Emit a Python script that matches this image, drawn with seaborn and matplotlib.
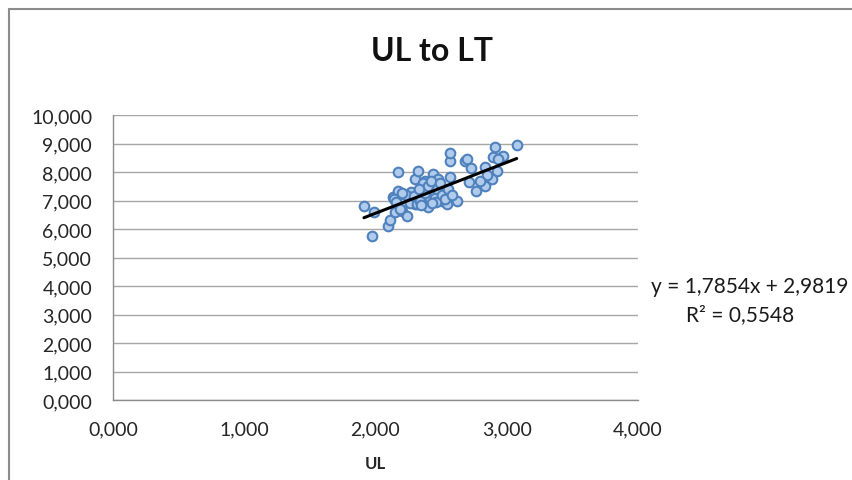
import numpy as np
import pandas as pd
import matplotlib
matplotlib.use("Agg")
import matplotlib.pyplot as plt
import seaborn as sns
from matplotlib.ticker import FuncFormatter, MultipleLocator

# UL values (thousands)
ul = [1.912, 1.989, 1.976, 2.174, 2.098, 2.110, 2.131, 2.174, 2.149, 2.200,
      2.238, 2.212, 2.270, 2.301, 2.321, 2.301, 2.352, 2.377, 2.402, 2.440,
      2.478, 2.440, 2.415, 2.486, 2.504, 2.542, 2.568, 2.568, 2.568, 2.619,
      2.547, 2.682, 2.695, 2.725, 2.715, 2.766, 2.834, 2.834, 2.867, 2.910,
      2.898, 2.923, 2.885, 2.961, 3.076, 2.974, 2.140, 2.160, 2.190, 2.230,
      2.260, 2.290, 2.320, 2.340, 2.360, 2.380, 2.400, 2.420, 2.450, 2.460,
      2.470, 2.490, 2.510, 2.530, 2.550, 2.580, 2.200, 2.330, 2.350, 2.430,
      2.850, 2.800, 2.930]
# LT values (thousands)
lt = [6.796, 6.607, 5.766, 7.989, 6.117, 6.327, 7.112, 7.345, 6.585, 6.643,
      6.445, 6.912, 7.287, 7.754, 8.046, 6.877, 7.404, 7.696, 6.760, 7.930,
      7.754, 7.287, 7.053, 7.404, 6.994, 6.877, 7.813, 8.398, 8.667, 6.994,
      7.112, 8.375, 8.456, 8.130, 7.638, 7.345, 8.164, 7.520, 7.813, 8.866,
      8.515, 8.046, 7.754, 8.515, 8.947, 8.573, 7.050, 6.950, 6.700, 7.200,
      6.900, 7.150, 6.880, 7.000, 7.600, 7.250, 7.500, 7.700, 7.100, 6.950,
      7.400, 7.600, 7.200, 7.050, 7.400, 7.200, 7.250, 7.400, 6.850, 6.900,
      7.900, 7.700, 8.450]

# trendline as printed on the chart
slope = 1.7854
intercept = 2.9819
r2 = 0.5548

df = pd.DataFrame({"UL": ul, "LT": lt})
xs = np.array([df["UL"].min(), df["UL"].max()])
trend = pd.DataFrame({"UL": xs, "LT": slope * xs + intercept})

sns.set_style("white")
plt.rcParams["font.family"] = ["Lato", "DejaVu Sans"]

fig = plt.figure(figsize=(8.52, 4.81), dpi=100)
ax = fig.add_axes([0.1326, 0.1663, 0.6162, 0.5925])

sns.scatterplot(data=df, x="UL", y="LT", ax=ax, s=48, color="#b0cbeb",
                edgecolor="#4f81bd", linewidth=1.5, zorder=3)
sns.lineplot(data=trend, x="UL", y="LT", ax=ax, color="black", linewidth=2.2, zorder=4)

ax.set_xlim(0, 4)
ax.set_ylim(0, 10)
ax.xaxis.set_major_locator(MultipleLocator(1))
ax.yaxis.set_major_locator(MultipleLocator(1))
fmt = FuncFormatter(lambda v, p: f"{v:.3f}".replace(".", ","))
ax.xaxis.set_major_formatter(fmt)
ax.yaxis.set_major_formatter(fmt)

ax.grid(axis="y", color="#a6a6a6", linewidth=1)
ax.set_axisbelow(True)
for s in ["top", "right"]:
    ax.spines[s].set_visible(False)
for s in ["left", "bottom"]:
    ax.spines[s].set_color("#8c8c8c")
    ax.spines[s].set_linewidth(1)
ax.tick_params(axis="both", direction="out", length=5, width=1, color="#8c8c8c",
               labelsize=14, labelcolor="#262626")
ax.tick_params(axis="y", pad=10)
ax.tick_params(axis="x", pad=10)

ax.set_xlabel("UL", fontsize=12, fontweight="bold", labelpad=12)
ax.set_ylabel("")
fig.text(0.5076, 0.892, "UL to LT", ha="center", va="center", fontsize=23,
         fontweight="bold", color="#111111")

eq = f"y = {slope:.4f}x + {intercept:.4f}".replace(".", ",")
fig.text(0.880, 0.403, eq, ha="center", va="center", fontsize=15, color="#1a1a1a")
fig.text(0.869, 0.345, f"R² = {r2:.4f}".replace(".", ","), ha="center", va="center",
         fontsize=15, color="#1a1a1a")

# chart frame (only left and top edges are in view)
fig.add_artist(plt.Line2D([0.0106, 0.0106], [0, 0.979], transform=fig.transFigure,
                          color="#8c8c8c", linewidth=1.5))
fig.add_artist(plt.Line2D([0.0106, 1], [0.979, 0.979], transform=fig.transFigure,
                          color="#8c8c8c", linewidth=1.5))

fig.savefig("out.png", dpi=100)
